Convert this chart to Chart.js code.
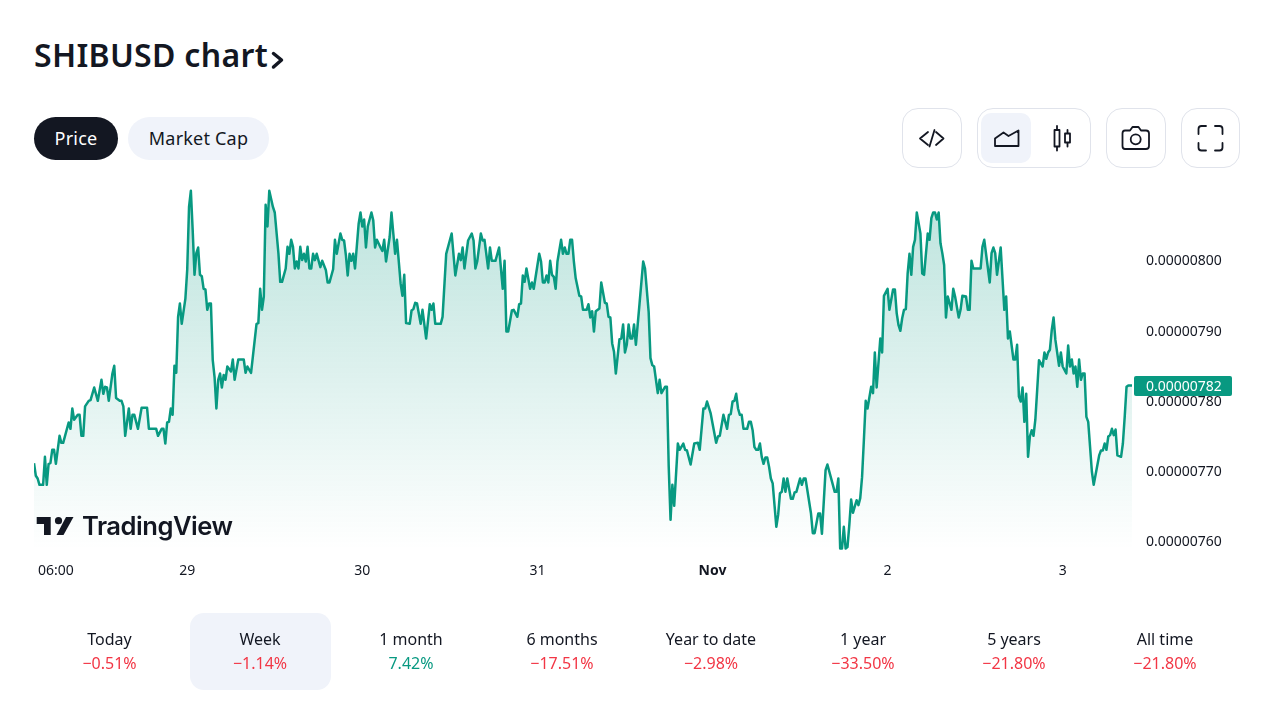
<!DOCTYPE html>
<html>
<head>
<meta charset="utf-8">
<title>SHIBUSD chart</title>
<script src="https://cdn.jsdelivr.net/npm/chart.js@4"></script>
<style>
    html, body { margin: 0; padding: 0; background: #fff; }
    body { width: 1280px; height: 720px; position: relative; overflow: hidden; font-family: 'Noto Sans', sans-serif; color: #131722; }
    #chartBox { position: absolute; left: 34px; top: 180px; width: 1206px; height: 410px; }
    #icons { position: absolute; left: 0; top: 0; }
    .title { position: absolute; left: 34px; top: 33px; font-size: 32px; font-weight: 600; line-height: 44px; letter-spacing: 0.3px; }
    .pill { position: absolute; top: 117px; height: 43px; line-height: 43px; border-radius: 22px; text-align: center; font-size: 18px; letter-spacing: 0.2px; }
    .box { position: absolute; top: 108px; height: 58px; border: 1px solid #e0e3eb; border-radius: 16px; }
    .active { position: absolute; left: 981px; top: 113px; width: 50px; height: 50px; border-radius: 10px; background: #f0f3fa; }
    .logo { position: absolute; left: 82px; top: 508px; font-family: Inter, sans-serif; font-size: 25.6px; font-weight: 600; line-height: 36px; letter-spacing: -0.5px; }
    .period { position: absolute; top: 613px; width: 141px; height: 77px; margin-left: -70.5px; border-radius: 14px; text-align: center; font-size: 16px; line-height: 24px; }
    .period.on { background: #f0f3fa; }
    .period div:first-child { margin-top: 14px; }
    .down { color: #f23645; }
    .up { color: #089981; }
</style>
</head>
<body>
<div id="chartBox"><canvas id="priceChart"></canvas></div>

<div class="title">SHIBUSD chart</div>
<div class="pill" style="left:34px;width:84px;background:#131722;color:#fff;">Price</div>
<div class="pill" style="left:128px;width:141px;background:#f0f3fa;">Market Cap</div>
<div class="box" style="left:902px;width:58px;"></div>
<div class="box" style="left:977px;width:112px;"></div>
<div class="active"></div>
<div class="box" style="left:1106px;width:58px;"></div>
<div class="box" style="left:1181px;width:57px;"></div>
<div class="logo">TradingView</div>

<svg id="icons" width="1280" height="720" fill="none" stroke="#131722" stroke-width="1.8" stroke-linejoin="round" stroke-linecap="round">
    <path d="M273.5 53.5 L281.5 60 L273.5 67" stroke-width="3.5"/>
    <path d="M928 132 L920 138.5 L928 145 M934.5 130 L929.5 146.5 M936 132 L943.5 138.5 L936 145"/>
    <path d="M995 146 V138.5 L1003.5 132.5 L1008.5 136 L1018.5 130.5 V146 Z"/>
    <path d="M1054.5 130 h5 v16.5 h-5 Z M1057 126 v4 M1057 146.5 v4 M1065 133.5 h5 v9 h-5 Z M1067.5 130 v3.5 M1067.5 142.5 v4"/>
    <path d="M1125 130.5 H1130 L1132.5 127 H1138.5 L1141 130.5 H1146 Q1149 130.5 1149 133.5 V146 Q1149 149 1146 149 H1125 Q1122.5 149 1122.5 146 V133.5 Q1122.5 130.5 1125 130.5 Z"/>
    <circle cx="1135.7" cy="139.3" r="5"/>
    <path d="M1198.5 134 V129 Q1198.5 126 1201.5 126 H1206 M1215 126 H1219.5 Q1222.5 126 1222.5 129 V134 M1222.5 143 V147.5 Q1222.5 150.5 1219.5 150.5 H1215 M1206 150.5 H1201.5 Q1198.5 150.5 1198.5 147.5 V143"/>
    <path d="M36.7 517 H50.7 V535 H44 V524 H36.7 Z" fill="#131722" stroke="none"/>
    <circle cx="58.5" cy="520.7" r="3.6" fill="#131722" stroke="none"/>
    <path d="M66 517 H73.5 L63.5 535 H56.5 Z" fill="#131722" stroke="none"/>
</svg>

<script>
// Bars are 15 minute steps from the left edge of the chart, prices are in 1e-8 USD
const bars = [
    0, 1, 2, 3, 5, 6, 7, 8, 9, 10,
    11, 12, 14, 15, 16, 19, 20, 21, 22, 24,
    25, 26, 27, 28, 30, 31, 32, 33, 35, 37,
    38, 39, 40, 41, 43, 44, 45, 47, 48, 49,
    50, 52, 53, 54, 55, 57, 59, 62, 63, 67,
    68, 70, 71, 72, 73, 74, 75, 76, 77, 78,
    79, 80, 81, 83, 84, 85, 86, 87, 88, 89,
    90, 91, 92, 93, 94, 95, 96, 97, 98, 99,
    100, 101, 102, 103, 104, 105, 106, 108, 109, 110,
    112, 115, 116, 117, 119, 120, 122, 123, 124, 125,
    126, 127, 128, 129, 131, 132, 134, 135, 136, 138,
    139, 140, 141, 142, 143, 144, 145, 146, 147, 148,
    149, 150, 151, 152, 153, 154, 155, 157, 158, 160,
    161, 162, 164, 165, 166, 168, 169, 170, 171, 172,
    173, 174, 175, 176, 178, 179, 180, 181, 182, 183,
    185, 186, 187, 188, 190, 191, 192, 193, 195, 196,
    197, 198, 199, 201, 202, 203, 204, 206, 207, 208,
    209, 210, 212, 213, 215, 217, 218, 219, 220, 223,
    224, 226, 229, 231, 233, 234, 235, 236, 238, 240,
    241, 242, 243, 245, 246, 247, 249, 250, 251, 253,
    255, 257, 258, 259, 260, 262, 263, 265, 266, 267,
    268, 269, 270, 272, 273, 274, 277, 278, 279, 280,
    281, 282, 283, 284, 285, 286, 287, 289, 290, 291,
    292, 293, 294, 295, 296, 297, 299, 300, 301, 303,
    304, 305, 306, 307, 308, 310, 311, 313, 314, 315,
    316, 317, 318, 319, 321, 322, 323, 324, 325, 326,
    327, 328, 329, 330, 332, 334, 335, 337, 338, 339,
    340, 342, 343, 344, 346, 347, 348, 349, 350, 351,
    353, 354, 356, 357, 358, 360, 362, 364, 365, 367,
    368, 369, 371, 373, 374, 375, 376, 378, 380, 381,
    382, 383, 384, 385, 386, 387, 388, 389, 391, 392,
    393, 394, 395, 396, 397, 398, 399, 400, 401, 402,
    403, 404, 405, 407, 408, 409, 410, 411, 412, 413,
    415, 416, 417, 418, 420, 421, 422, 423, 426, 427,
    428, 430, 431, 432, 434, 435, 438, 439, 440, 441,
    442, 443, 444, 445, 446, 447, 448, 449, 451, 452,
    453, 454, 455, 456, 457, 459, 460, 461, 462, 464,
    465, 466, 468, 469, 471, 472, 473, 474, 475, 476,
    477, 478, 479, 480, 481, 482, 483, 484, 486, 487,
    488, 490, 491, 492, 493, 494, 495, 496, 497, 498,
    499, 500, 501, 503, 504, 505, 507, 508, 509, 511,
    512, 513, 514, 515, 519, 520, 521, 524, 525, 526,
    527, 528, 530, 532, 533, 534, 535, 537, 538, 539,
    540, 541, 542, 543, 544, 545, 546, 547, 548, 549,
    550, 551, 553, 554, 555, 556, 557, 558, 559, 560,
    562, 563, 564, 566, 567, 568, 569, 570, 571, 572,
    573, 574, 575, 576, 577, 578, 580, 581, 584, 585,
    586, 587, 588, 589, 590, 591, 592, 593, 594, 596,
    597, 598, 599, 600, 602
];
const prices = [
    771.2, 769.4, 769.0, 768.1, 768.1, 772.1, 768.1, 771.1, 771.2, 773.1,
    773.1, 771.1, 775.1, 774.1, 774.1, 777.0, 776.1, 779.0, 777.4, 778.1,
    778.1, 775.1, 775.1, 779.3, 780.1, 780.2, 781.1, 782.0, 780.1, 783.1,
    781.1, 782.1, 782.0, 780.1, 784.0, 785.1, 780.5, 780.1, 780.1, 779.3,
    775.1, 779.0, 776.1, 778.1, 778.1, 776.1, 779.1, 779.1, 776.1, 776.1,
    775.1, 776.1, 776.1, 774.0, 777.0, 777.1, 779.0, 778.1, 785.1, 784.1,
    792.1, 794.0, 791.1, 794.7, 798.8, 807.8, 810.1, 804.5, 798.1, 801.2,
    802.0, 798.1, 797.9, 796.1, 796.0, 793.1, 794.0, 794.0, 785.9, 783.5,
    779.0, 783.1, 784.0, 782.0, 783.8, 783.1, 785.0, 784.3, 786.0, 783.1,
    786.0, 786.0, 784.1, 785.0, 784.1, 786.4, 791.1, 791.2, 796.1, 793.1,
    795.0, 808.1, 805.0, 810.1, 807.8, 807.0, 801.2, 797.1, 797.1, 799.0,
    802.1, 801.1, 803.1, 802.1, 799.0, 800.0, 799.0, 802.1, 800.2, 801.1,
    800.0, 802.1, 799.0, 799.0, 801.1, 800.2, 801.1, 799.2, 800.1, 798.8,
    797.0, 797.0, 798.9, 803.1, 801.1, 804.0, 803.1, 803.0, 800.9, 798.0,
    801.1, 800.1, 801.1, 799.0, 805.4, 807.0, 805.0, 806.0, 802.0, 805.0,
    807.0, 805.9, 802.0, 803.1, 802.0, 801.5, 803.1, 800.0, 803.5, 807.0,
    804.0, 801.1, 803.1, 796.9, 795.1, 798.1, 791.2, 791.1, 793.0, 793.2,
    794.1, 794.0, 791.1, 793.1, 789.0, 793.9, 793.1, 794.0, 791.1, 791.1,
    792.1, 801.1, 804.0, 798.0, 801.1, 800.2, 802.0, 799.0, 803.0, 804.0,
    803.0, 799.0, 800.0, 804.0, 803.0, 803.1, 799.0, 802.0, 800.1, 800.1,
    802.0, 796.1, 800.1, 790.0, 790.0, 793.0, 793.1, 792.1, 793.9, 794.0,
    798.0, 797.1, 799.0, 796.1, 797.0, 796.1, 801.1, 800.0, 797.0, 797.0,
    798.0, 797.0, 800.1, 798.1, 797.8, 796.1, 800.0, 803.1, 801.1, 802.0,
    801.1, 801.1, 803.1, 803.1, 800.0, 797.6, 795.1, 795.0, 793.1, 793.1,
    793.9, 792.0, 792.9, 790.0, 792.9, 793.3, 797.0, 794.1, 794.0, 792.1,
    792.0, 788.3, 787.1, 784.0, 788.9, 789.0, 791.0, 787.0, 788.1, 791.0,
    789.0, 789.0, 791.0, 788.1, 794.0, 800.0, 799.0, 792.8, 786.2, 785.2,
    785.0, 781.2, 783.1, 781.2, 782.1, 782.1, 770.7, 763.1, 768.1, 765.1,
    774.0, 773.1, 774.0, 773.1, 773.0, 771.0, 774.0, 774.1, 773.1, 779.0,
    779.0, 780.0, 778.3, 775.5, 774.1, 775.0, 775.1, 778.1, 776.1, 778.1,
    778.2, 780.0, 780.1, 781.1, 779.0, 778.1, 778.1, 776.1, 776.1, 777.1,
    777.1, 775.9, 773.5, 773.1, 773.1, 774.0, 772.1, 771.1, 772.0, 772.0,
    770.7, 769.0, 768.3, 762.1, 763.8, 766.9, 767.1, 769.0, 767.1, 769.0,
    766.1, 766.1, 767.0, 767.1, 769.0, 768.1, 769.0, 769.0, 764.0, 761.2,
    761.2, 764.0, 764.0, 761.1, 770.2, 771.0, 768.1, 767.1, 767.1, 769.0,
    759.0, 759.0, 762.1, 759.0, 759.2, 762.3, 766.0, 764.1, 765.9, 765.2,
    766.2, 769.2, 774.5, 780.1, 779.0, 782.1, 781.2, 787.0, 782.0, 789.0,
    787.0, 795.1, 796.1, 793.1, 796.0, 796.0, 792.6, 790.9, 790.1, 791.9,
    793.1, 793.2, 798.3, 801.1, 798.1, 802.1, 803.1, 807.0, 804.0, 798.3,
    798.1, 804.0, 803.1, 806.2, 807.0, 807.0, 806.0, 807.0, 802.6, 801.2,
    799.5, 792.0, 795.0, 793.1, 796.1, 795.0, 792.0, 793.1, 795.1, 795.0,
    793.1, 793.1, 800.1, 799.0, 799.0, 802.1, 803.1, 797.0, 801.2, 802.0,
    801.2, 798.1, 802.0, 793.1, 795.0, 789.0, 790.0, 786.0, 786.0, 788.1,
    780.7, 780.0, 782.0, 777.1, 781.1, 772.1, 775.0, 775.9, 775.1, 777.4,
    781.6, 785.9, 785.0, 787.0, 786.1, 787.0, 787.4, 790.2, 792.0, 788.8,
    785.1, 787.0, 785.0, 784.0, 788.0, 785.0, 786.0, 784.0, 785.0, 782.1,
    786.0, 783.1, 784.0, 784.0, 777.8, 777.1, 770.0, 768.1, 772.3, 773.0,
    773.0, 774.0, 773.1, 775.0, 775.2, 776.1, 775.2, 776.0, 772.3, 772.1,
    774.0, 777.8, 782.1, 782.3, 782.3
];
const xTickBars = [12, 84, 180, 276, 372, 468, 564];
const xTickLabels = ['06:00', '29', '30', '31', 'Nov', '2', '3'];
const yTickValues = [760, 770, 780, 790, 800];

const periodNames = ['Today', 'Week', '1 month', '6 months', 'Year to date', '1 year', '5 years', 'All time'];
const periodChanges = ['−0.51%', '−1.14%', '7.42%', '−17.51%', '−2.98%', '−33.50%', '−21.80%', '−21.80%'];
const periodCenters = [109.5, 260, 411, 562, 711, 863, 1014, 1165];

const LINE_COLOR = '#089981';
const FONT = "'Noto Sans', sans-serif";

// Etiqueta do último preço, desenhada por cima do eixo
const lastPriceLabel = {
    id: 'lastPriceLabel',
    afterDraw(chart) {
        const { ctx, scales } = chart;
        const last = prices[prices.length - 1];
        const y = scales.y.getPixelForValue(last);
        const left = scales.y.left + 2;
        ctx.save();
        ctx.fillStyle = LINE_COLOR;
        ctx.beginPath();
        ctx.roundRect(left, y - 9.5, 98, 20, 2);
        ctx.fill();
        ctx.fillStyle = '#fff';
        ctx.font = '14px ' + FONT;
        ctx.textBaseline = 'middle';
        ctx.fillText(formatPrice(Math.round(last)), scales.y.left + 14, y + 1.5);
        ctx.restore();
    }
};

function formatPrice(value) {
    return (value / 1e8).toFixed(8);
}

function areaGradient(context) {
    const area = context.chart.chartArea;
    if (!area) return 'transparent';
    const g = context.chart.ctx.createLinearGradient(0, area.top, 0, area.bottom);
    g.addColorStop(0, 'rgba(8, 153, 129, 0.28)');
    g.addColorStop(1, 'rgba(8, 153, 129, 0)');
    return g;
}

function initializePriceChart() {
    const ctx = document.getElementById('priceChart').getContext('2d');
    new Chart(ctx, {
        type: 'line',
        data: {
            datasets: [{
                data: bars.map((b, i) => ({ x: b, y: prices[i] })),
                borderColor: LINE_COLOR,
                borderWidth: 2.5,
                backgroundColor: areaGradient,
                fill: 'start',
                tension: 0,
                pointRadius: 0,
                borderJoinStyle: 'round'
            }]
        },
        options: {
            responsive: true,
            maintainAspectRatio: false,
            animation: false,
            layout: { padding: { top: 5 } },
            plugins: { legend: { display: false }, tooltip: { enabled: false } },
            scales: {
                x: {
                    type: 'linear',
                    min: 0,
                    max: 602,
                    grid: { display: false, drawTicks: false },
                    border: { display: false },
                    afterFit: scale => {
                        scale.height = 40;
                        scale.paddingLeft = 0;
                        scale.paddingRight = 0;
                    },
                    afterBuildTicks: scale => { scale.ticks = xTickBars.map(v => ({ value: v })); },
                    ticks: {
                        autoSkip: false,
                        maxRotation: 0,
                        padding: 13,
                        color: '#131722',
                        font: c => ({ family: FONT, size: 14, weight: c.tick && c.tick.value === 372 ? 'bold' : 'normal' }),
                        callback: value => xTickLabels[xTickBars.indexOf(value)]
                    }
                },
                y: {
                    position: 'right',
                    min: 758.79,
                    max: 810.93,
                    grid: { display: false, drawTicks: false },
                    border: { display: false },
                    afterFit: scale => {
                        scale.width = 108;
                        scale.paddingTop = 0;
                        scale.paddingBottom = 0;
                    },
                    afterBuildTicks: scale => { scale.ticks = yTickValues.map(v => ({ value: v })); },
                    ticks: {
                        padding: 14,
                        crossAlign: 'near',
                        color: '#131722',
                        font: { family: FONT, size: 14 },
                        callback: value => formatPrice(value)
                    }
                }
            }
        },
        plugins: [lastPriceLabel]
    });
}

// Linha de períodos abaixo do gráfico
function renderPeriods() {
    periodNames.forEach((name, i) => {
        const item = document.createElement('div');
        item.className = 'period' + (i === 1 ? ' on' : '');
        item.style.left = periodCenters[i] + 'px';
        const cls = periodChanges[i].startsWith('−') ? 'down' : 'up';
        item.innerHTML = `<div>${name}</div><div class="${cls}">${periodChanges[i]}</div>`;
        document.body.appendChild(item);
    });
}

renderPeriods();
initializePriceChart();
</script>
</body>
</html>
